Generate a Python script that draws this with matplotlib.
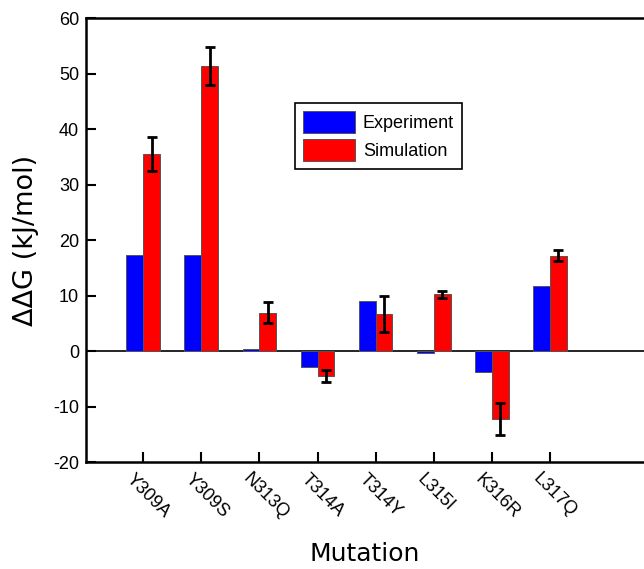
import matplotlib
matplotlib.use('Agg')
import matplotlib.pyplot as plt
import matplotlib.transforms as mtransforms
import numpy as np

mutations = ['Y309A', 'Y309S', 'N313Q', 'T314A', 'T314Y', 'L315I', 'K316R', 'L317Q']
experiment = [17.3, 17.3, 0.3, -2.8, 9.1, -0.3, -3.8, 11.7]
simulation = [35.5, 51.4, 6.9, -4.5, 6.7, 10.2, -12.3, 17.2]
sim_err = [3.0, 3.4, 1.9, 1.1, 3.3, 0.7, 2.9, 0.95]

plt.rcParams['font.family'] = ['Liberation Sans', 'DejaVu Sans']
plt.rcParams['axes.unicode_minus'] = False

fig = plt.figure(figsize=(6.44, 5.69), dpi=100)
ax = fig.add_axes([0.1335, 0.188, 0.8665, 0.780])

x = np.arange(1, len(mutations) + 1)
w = 0.29
ax.bar(x - w / 2, experiment, w, color='#0000ff', edgecolor='#555555',
       linewidth=0.7, label='Experiment', zorder=2)
ax.bar(x + w / 2, simulation, w, color='#ff0000', edgecolor='#555555',
       linewidth=0.7, label='Simulation', zorder=2)
ax.errorbar(x + w / 2, simulation, yerr=sim_err, fmt='none', ecolor='black',
            elinewidth=2, capsize=3.6, capthick=2, zorder=3)
ax.axhline(0, color='black', lw=1.2, zorder=1)

ax.set_xlim(0.014, 9.62)
ax.set_ylim(-20, 60)
ax.set_yticks(np.arange(-20, 61, 10))
ax.set_xticks(x)
ax.set_xticklabels(mutations, rotation=-45, ha='left', va='top',
                   rotation_mode='anchor', fontsize=13)
ax.tick_params(axis='x', direction='in', length=7, width=1.5, pad=6)
ax.tick_params(axis='y', direction='in', length=7, width=1.5, pad=5,
               labelsize=13)
# shift rotated labels left so they start just before the tick
shift = mtransforms.ScaledTranslation(-8 / 100, 0, fig.dpi_scale_trans)
for lab in ax.get_xticklabels():
    lab.set_transform(lab.get_transform() + shift)
ax.spines['right'].set_visible(False)
for s in ['left', 'top', 'bottom']:
    ax.spines[s].set_linewidth(1.8)

ax.set_ylabel('ΔΔG (kJ/mol)', fontsize=19.5, family='DejaVu Sans', labelpad=10)
ax.set_xlabel('Mutation', fontsize=18, family='DejaVu Sans', labelpad=14)

leg = ax.legend(loc='upper left', bbox_to_anchor=(0.3746, 0.8086), fontsize=13,
                fancybox=False, edgecolor='black', framealpha=1,
                handlelength=2.9, handleheight=1.5, borderpad=0.45,
                labelspacing=0.3, handletextpad=0.4, borderaxespad=0)
leg.get_frame().set_linewidth(1.2)

fig.savefig('out.png', dpi=100)
